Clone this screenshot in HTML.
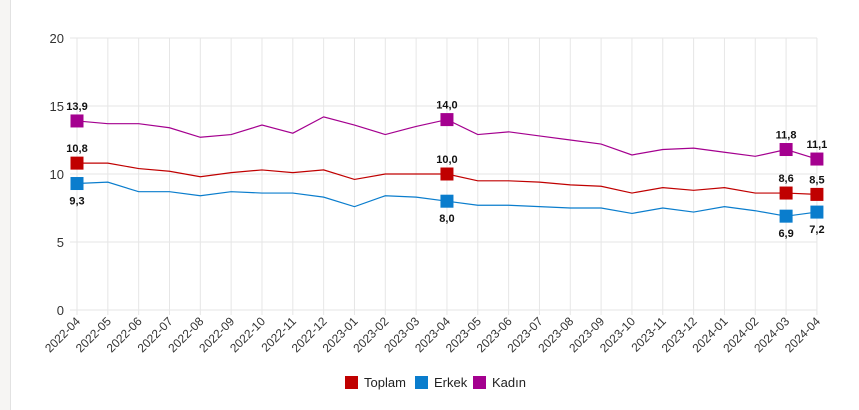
<!DOCTYPE html><html><head><meta charset="utf-8"><style>body{margin:0;background:#fff}svg{display:block;font-family:"Liberation Sans",sans-serif}</style></head><body>
<svg width="859" height="410" xmlns="http://www.w3.org/2000/svg">
<rect x="0" y="0" width="10" height="410" fill="#f6f5f3"/><line x1="10.5" y1="0" x2="10.5" y2="410" stroke="#e2e2e2"/>
<g id="g"></g>
</svg>
<script>
const K=[13.9,13.7,13.7,13.4,12.7,12.9,13.6,13.0,14.2,13.6,12.9,13.5,14.0,12.9,13.1,12.8,12.5,12.2,11.4,11.8,11.9,11.6,11.3,11.8,11.1];
const T=[10.8,10.8,10.4,10.2,9.8,10.1,10.3,10.1,10.3,9.6,10.0,10.0,10.0,9.5,9.5,9.4,9.2,9.1,8.6,9.0,8.8,9.0,8.6,8.6,8.5];
const E=[9.3,9.4,8.7,8.7,8.4,8.7,8.6,8.6,8.3,7.6,8.4,8.3,8.0,7.7,7.7,7.6,7.5,7.5,7.1,7.5,7.2,7.6,7.3,6.9,7.2];
const X=i=>77+i*30.83, Y=v=>310-v*13.6;
let s='';
for(let v=0;v<=20;v+=5){s+=`<line x1="70" x2="817" y1="${Y(v)}" y2="${Y(v)}" stroke="#e6e6e6"/><text x="64" y="${Y(v)+5}" text-anchor="end" font-size="13" fill="#333">${v}</text>`;}
const labs=[];for(let i=0;i<25;i++){let m=(3+i)%12+1,y=2022+Math.floor((3+i)/12);labs.push(y+'-'+String(m).padStart(2,'0'));}
for(let i=0;i<25;i++){s+=`<line x1="${X(i)}" x2="${X(i)}" y1="38" y2="315" stroke="#e6e6e6"/><text transform="translate(${X(i)+4},${322}) rotate(-45)" text-anchor="end" font-size="12" fill="#333">${labs[i]}</text>`;}
function ser(d,c,mk,above){s+=`<polyline fill="none" stroke="${c}" stroke-width="1.2" points="${d.map((v,i)=>X(i)+','+Y(v)).join(' ')}"/>`;
mk.forEach(i=>{s+=`<rect x="${X(i)-6.5}" y="${Y(d[i])-6.5}" width="13" height="13" fill="${c}"/><text x="${X(i)}" y="${above?Y(d[i])-11:Y(d[i])+21}" text-anchor="middle" font-size="11" font-weight="bold" fill="#111">${d[i].toFixed(1).replace('.',',')}</text>`;});}
ser(K,'#a4008f',[0,12,23,24],true);ser(T,'#c00000',[0,12,23,24],true);ser(E,'#0a7dcd',[0,12,23,24],false);
[['Toplam','#c00000',345],['Erkek','#0a7dcd',415],['Kadın','#a4008f',473]].forEach(([n,c,x])=>{s+=`<rect x="${x}" y="376" width="13" height="13" fill="${c}"/><text x="${x+19}" y="387" font-size="13" fill="#222">${n}</text>`;});
document.getElementById('g').innerHTML=s;
</script>
</body></html>
